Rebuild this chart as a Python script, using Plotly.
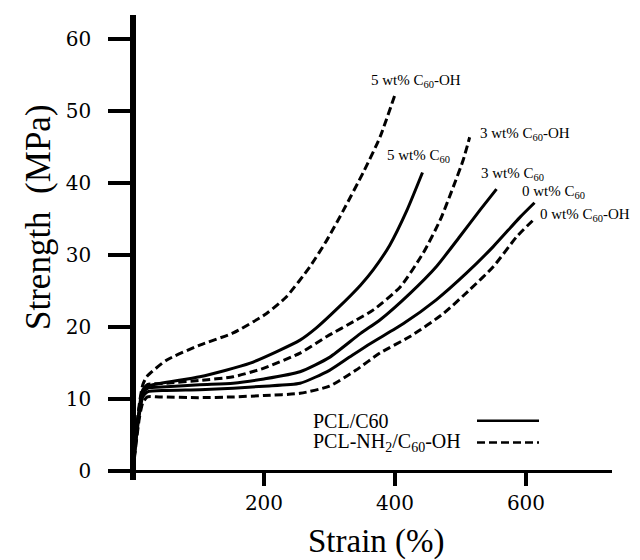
import plotly.graph_objects as go

# ---------------- data ----------------
strain_0_c60 = [0, 5, 10, 15, 22, 50, 102, 153, 200, 255, 300, 330, 362, 413, 463, 509, 550, 591, 613]
stress_0_c60 = [0, 4.5, 8, 10.3, 11.0, 11.2, 11.3, 11.5, 11.8, 12.2, 14.0, 15.8, 17.7, 20.5, 23.8, 27.5, 31.2, 35.3, 37.3]

strain_3_c60 = [0, 5, 10, 15, 22, 51, 102, 153, 200, 255, 300, 347, 377, 423, 463, 499, 530, 555]
stress_3_c60 = [0, 5, 8.5, 10.8, 11.5, 11.7, 12.0, 12.2, 12.8, 13.8, 15.8, 19.1, 21.0, 24.7, 28.4, 32.6, 36.3, 39.2]

strain_5_c60 = [0, 5, 10, 15, 26, 102, 179, 255, 280, 311, 347, 367, 392, 418, 442]
stress_5_c60 = [0, 5, 9, 11.3, 11.9, 13.1, 15.0, 18.2, 19.9, 22.5, 25.8, 28.0, 31.4, 36.2, 41.5]

strain_0_oh = [0, 5, 10, 15, 22, 40, 100, 153, 200, 255, 300, 340, 377, 423, 474, 514, 550, 586, 610]
stress_0_oh = [0, 4, 7.5, 9.5, 10.3, 10.3, 10.2, 10.3, 10.5, 10.8, 11.8, 14.0, 16.4, 18.7, 21.9, 25.2, 28.4, 32.6, 34.8]

strain_3_oh = [0, 5, 10, 15, 22, 51, 102, 153, 200, 255, 296, 341, 367, 408, 443, 469, 489, 504, 514]
stress_3_oh = [0, 5, 9, 11.3, 12.0, 12.2, 12.6, 13.1, 14.3, 16.4, 18.7, 21.0, 22.4, 25.6, 30.3, 34.9, 39.5, 43.2, 46.4]

strain_5_oh = [0, 5, 10, 15, 21, 51, 102, 153, 204, 234, 270, 296, 321, 352, 377, 401]
stress_5_oh = [0, 5.5, 9.5, 12, 13.1, 15.4, 17.5, 19.2, 21.9, 24.2, 28.4, 32.1, 36.2, 41.6, 46.4, 52.6]

series_names = ["0 wt% C<sub>60</sub>", "3 wt% C<sub>60</sub>", "5 wt% C<sub>60</sub>",
                "0 wt% C<sub>60</sub>-OH", "3 wt% C<sub>60</sub>-OH", "5 wt% C<sub>60</sub>-OH"]
series_x = [strain_0_c60, strain_3_c60, strain_5_c60, strain_0_oh, strain_3_oh, strain_5_oh]
series_y = [stress_0_c60, stress_3_c60, stress_5_c60, stress_0_oh, stress_3_oh, stress_5_oh]
series_dash = ["solid", "solid", "solid", "8px,4px", "8px,4px", "8px,4px"]

x_ticks = [200, 400, 600]
y_ticks = [0, 10, 20, 30, 40, 50, 60]

legend_texts = ["PCL/C60", "PCL-NH<sub>2</sub>/C<sub>60</sub>-OH"]

# ---------------- figure ----------------
OFF = 8  # page body margin of the browser
fig = go.Figure()
for xs, ys, nm, ds in zip(series_x, series_y, series_names, series_dash):
    fig.add_trace(go.Scatter(x=xs, y=ys, mode="lines", name=nm,
                             line=dict(color="black", width=3, dash=ds,
                                       shape="spline", smoothing=0.6),
                             showlegend=False))

X0, X1 = -30.5, 731.3
Y0, Y1 = -1.25, 63.4
W_PLOT, H_PLOT = 499, 465
L, T = 113 - OFF, 15 - OFF


def px_to_paper(px, py):
    return (px - OFF - L) / W_PLOT, (T + H_PLOT - (py - OFF)) / H_PLOT


serif = "Liberation Serif, Times New Roman, serif"

# curve labels, placed relative to each curve's end point (pixel shifts)
label_shifts = [(-15, 11), (-18, 15), (-38, 17), (5, 6), (8, 3), (-27, 12)]
for xs, ys, nm, (dx, dy) in zip(series_x, series_y, series_names, label_shifts):
    fig.add_annotation(x=xs[-1], y=ys[-1], text=nm, showarrow=False,
                       xanchor="left", yanchor="middle", xshift=dx, yshift=dy,
                       font=dict(family=serif, size=15, color="black"))

# legend (text on the left, line sample on the right)
leg_rows = [(420.7, "solid"), (442.5, "8px,4px")]
for (py, ds), txt in zip(leg_rows, legend_texts):
    xa, ya = px_to_paper(311, py)
    fig.add_annotation(x=xa, y=ya, xref="paper", yref="paper", text=txt,
                       showarrow=False, xanchor="left", yanchor="middle",
                       font=dict(family=serif, size=20, color="black"))
    lx0, ly = px_to_paper(477, py)
    lx1, _ = px_to_paper(539, py)
    fig.add_shape(type="line", xref="paper", yref="paper", x0=lx0, x1=lx1, y0=ly, y1=ly,
                  line=dict(color="black", width=2.5, dash=ds))

# axis titles
tx, ty = px_to_paper(376, 541)
fig.add_annotation(x=tx, y=ty, xref="paper", yref="paper", text="Strain (%)",
                   showarrow=False, xanchor="center", yanchor="middle",
                   font=dict(family=serif, size=33, color="black"))
yx, yy = px_to_paper(38, 217)
fig.add_annotation(x=yx, y=yy, xref="paper", yref="paper", text="Strength  (MPa)",
                   showarrow=False, textangle=-90, xanchor="center", yanchor="middle",
                   font=dict(family=serif, size=35, color="black"))

tick_font = dict(family="DejaVu Serif, serif", size=20, color="black")
fig.update_layout(
    width=640, height=560,
    margin=dict(l=L, r=640 - L - W_PLOT, t=T, b=560 - T - H_PLOT),
    paper_bgcolor="white", plot_bgcolor="white",
    xaxis=dict(range=[X0, X1], anchor="free", position=(0 - Y0) / (Y1 - Y0),
               showgrid=False, zeroline=False, showline=True, linecolor="black",
               linewidth=3, ticks="outside", ticklen=13, tickwidth=4, tickcolor="black",
               tickvals=x_ticks, ticktext=[str(v) for v in x_ticks],
               tickfont=tick_font, ticklabelstandoff=0),
    yaxis=dict(range=[Y0, Y1], anchor="free", position=(0 - X0) / (X1 - X0),
               showgrid=False, zeroline=False, showline=True, linecolor="black",
               linewidth=5.5, ticks="outside", ticklen=22, tickwidth=4, tickcolor="black",
               tickvals=y_ticks, ticktext=[str(v) for v in y_ticks],
               tickfont=tick_font, ticklabelstandoff=13),
    showlegend=False,
)

fig.write_html("out.html")
